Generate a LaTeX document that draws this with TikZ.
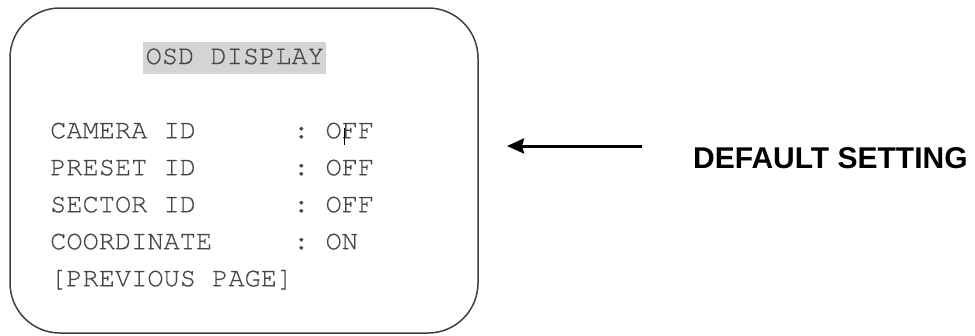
\documentclass[tikz,border=0pt]{standalone}
\usepackage{fontspec}
\setmainfont{Liberation Sans}
\setmonofont[FakeBold=0.5]{texgyrecursor-regular.otf}
\usepackage{tikz}
\usetikzlibrary{positioning, arrows.meta, matrix}

\tikzset{
  osdtext/.style={inner sep=0pt, text height=17pt, text depth=5pt, text=black!72,
    font=\ttfamily\fontsize{27}{30}\selectfont},
}

\begin{document}
\begin{tikzpicture}[x=1pt,y=-1pt]
  \useasboundingbox (0,0) rectangle (975,335);
  \draw[line width=1.5pt, black!75, rounded corners=50pt] (10,8) rectangle (478,333);
  \node (title) [osdtext, anchor=base west, fill=black!17, inner xsep=2.5pt, inner ysep=5pt] at (143,64) {OSD DISPLAY};
  \matrix (m) [matrix of nodes, anchor=north west, inner sep=0pt, row sep=15pt,
    nodes={osdtext, anchor=west}] at (50,121)
  {
      CAMERA ID & : &[16.2pt] OFF \\
      PRESET ID & : & OFF \\
      SECTOR ID & : & OFF \\
      COORDINATE & : & ON \\
      {[PREVIOUS PAGE]} \\
  };
  % cursor mark
  \draw[line width=1pt, black] ([xshift=19.5pt, yshift=-7pt]m-1-3.base west) -- ++(0,-17);
  \node (setting) [anchor=base west, inner sep=0pt, font=\bfseries\fontsize{30}{36}\selectfont] at (693,168) {DEFAULT SETTING};
  \coordinate (tail) at (642,146);
  \coordinate (head) at (507,146);
  \path[-{Stealth[length=17pt, width=15pt, inset=2pt]}]
    (tail) edge [line width=3pt] (head);
\end{tikzpicture}
\end{document}
